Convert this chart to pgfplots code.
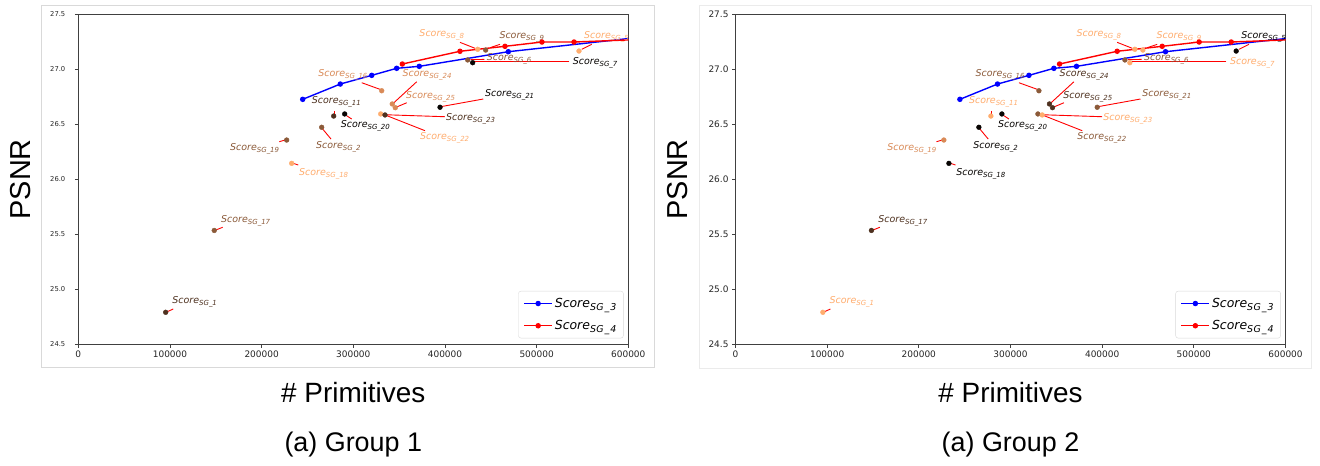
\documentclass[border=0pt]{standalone}
\usepackage{fontspec}
\setmainfont{DejaVu Sans}
\newfontfamily\capfont{Liberation Sans}
\usepackage{pgfplots}
\pgfplotsset{compat=1.18}

\definecolor{cK}{HTML}{080503}
\definecolor{cD}{HTML}{4E311F}
\definecolor{cB}{HTML}{8B5A39}
\definecolor{cT}{HTML}{D98A57}
\definecolor{cL}{HTML}{FFAD6E}

\newcommand{\sg}[1]{{\fontsize{9.5}{10}\selectfont\itshape Score\raisebox{-2bp}{\fontsize{7}{8}\selectfont #1}}}
\newcommand{\sgleg}[1]{{\itshape Score\raisebox{-2.8bp}{\fontsize{9.5}{10}\selectfont S\kern0.3bp G\kern1bp\_\kern1bp #1}}}

\newcommand{\pt}[3]{\addplot[forget plot, only marks, mark=*, mark size=2.4bp, color=#1] coordinates {(#2,#3)};}
\newcommand{\lab}[4]{\node[anchor=base west, inner sep=0pt, text=#1] at (axis cs:#2,#3) {\sg{#4}};}
\newcommand{\con}[4]{\draw[red, line width=0.9bp] (axis cs:#1,#2) -- (axis cs:#3,#4);}

\pgfplotsset{
  mylegimg/.style={legend image code/.code={\draw[mark repeat=2,mark phase=2,##1] plot coordinates {(0bp,0bp) (14bp,0bp) (28bp,0bp)};}},
  panel/.style={
    scale only axis, width=550bp, height=330bp, anchor=south west,
    xmin=0, xmax=600000, ymin=24.5, ymax=27.5,
    scaled x ticks=false, scaled y ticks=false,
    xtick={0,100000,200000,300000,400000,500000,600000},
    xticklabels={0,100000,200000,300000,400000,500000,600000},
    ytick={24.5,25,25.5,26,26.5,27,27.5},
    yticklabels={24.5,25.0,25.5,26.0,26.5,27.0,27.5},
    tick align=outside, xtick pos=bottom, ytick pos=left, major tick length=3.5bp,
    axis line style={black!75, line width=0.8bp},
    tick style={black!75, line width=0.8bp},
    ticklabel style={font=\fontsize{9}{10}\selectfont, text=black!85},
    xlabel={\# Primitives},
    xlabel style={at={(axis description cs:0.5,-0.1476)}, anchor=center, font=\capfont\fontsize{28}{30}\selectfont},
    ylabel={PSNR},
    ylabel style={at={(axis description cs:-0.105,0.5)}, anchor=center, font=\capfont\fontsize{29}{30}\selectfont},
    title style={at={(axis description cs:0.5,-0.323)}, anchor=center, yshift=0pt, font=\capfont\fontsize{27}{30}\selectfont},
    legend style={at={(1,0)}, anchor=south east, xshift=-4.7bp, yshift=6bp,
      draw=black!15, rounded corners=2.5bp, fill=white,
      font=\fontsize{12.5}{14}\selectfont, inner xsep=5bp, inner ysep=5bp,
      row sep=7.5bp},
    legend cell align=left,
  }
}

\newcommand{\groupcontent}{%
  \pt{c1}{95300}{24.791}
  \pt{c17}{148300}{25.535}
  \pt{c19}{227300}{26.357}
  \pt{c18}{232800}{26.145}
  \pt{c2}{265500}{26.473}
  \pt{c11}{278600}{26.575}
  \pt{c20}{290600}{26.594}
  \pt{c16}{331000}{26.805}
  \pt{c22}{329900}{26.594}
  \pt{c23}{334600}{26.585}
  \pt{c24}{342500}{26.685}
  \pt{c25}{345800}{26.651}
  \pt{c21}{394600}{26.655}
  \pt{c6}{424800}{27.085}
  \pt{c7}{430200}{27.060}
  \pt{c8}{435700}{27.182}
  \pt{c9}{444400}{27.175}
  \pt{c5}{546200}{27.166}
  \addplot[mylegimg, color=blue, line width=1.4bp, mark=*, mark size=2bp] coordinates {
    (244800,26.727) (285800,26.866) (320100,26.945) (347300,27.009) (372000,27.027) (469100,27.160) (640000,27.316)};
  \addlegendentry{\sgleg{3}}
  \addplot[mylegimg, color=red, line width=1.4bp, mark=*, mark size=2bp] coordinates {
    (353500,27.048) (416400,27.164) (465500,27.209) (505800,27.248) (540800,27.248) (640000,27.280)};
  \addlegendentry{\sgleg{4}}
  \con{416400}{27.245}{432800}{27.191}
  \con{460000}{27.227}{449100}{27.196}
  \con{560100}{27.227}{549200}{27.182}
  \con{535600}{27.069}{431700}{27.069}
  \con{443000}{27.090}{428000}{27.088}
  \con{309200}{26.878}{329100}{26.818}
  \con{369200}{26.887}{343600}{26.691}
  \con{358300}{26.696}{346600}{26.655}
  \con{441800}{26.730}{395300}{26.660}
  \con{279300}{26.621}{279300}{26.591}
  \con{400000}{26.569}{334600}{26.587}
  \con{298300}{26.548}{292800}{26.578}
  \con{378200}{26.442}{334600}{26.585}
  \con{275700}{26.366}{266600}{26.457}
  \con{219300}{26.342}{225500}{26.357}
  \con{240000}{26.130}{234500}{26.145}
  \con{157500}{25.564}{149100}{25.536}
  \con{103600}{24.821}{96400}{24.794}
  \lab{c8}{372000}{27.295}{SG\_8}
  \lab{c9}{459300}{27.280}{SG\_9}
  \begin{scope}
    \clip (rel axis cs:0,0) rectangle (rel axis cs:1,1);
    \lab{c5}{551700}{27.280}{SG\_5}
  \end{scope}
  \lab{c6}{445500}{27.077}{SG\_6}
  \lab{c7}{539300}{27.046}{SG\_7}
  \lab{c16}{261800}{26.937}{SG\_16}
  \lab{c24}{353500}{26.937}{SG\_24}
  \lab{c25}{357500}{26.734}{SG\_25}
  \lab{c21}{443700}{26.755}{SG\_21}
  \lab{c11}{254600}{26.689}{SG\_11}
  \lab{c23}{401100}{26.537}{SG\_23}
  \lab{c20}{286300}{26.468}{SG\_20}
  \lab{c22}{372800}{26.362}{SG\_22}
  \lab{c2}{259300}{26.280}{SG\_2}
  \lab{c19}{165500}{26.264}{SG\_19}
  \lab{c18}{240800}{26.037}{SG\_18}
  \lab{c17}{155700}{25.607}{SG\_17}
  \lab{c1}{102500}{24.871}{SG\_1}
}

\begin{document}
\begin{tikzpicture}
\useasboundingbox (0,0) rectangle (1320bp,-466bp);
\fill[white] (0,0) rectangle (1320bp,-466bp);
\draw[black!15, line width=0.8bp] (41.7bp,-5bp) rectangle (654bp,-367bp);
\draw[black!8, line width=0.8bp] (699.3bp,-5bp) rectangle (1311bp,-368bp);

% Group 1 colours
\colorlet{c1}{cD}\colorlet{c17}{cB}\colorlet{c19}{cB}\colorlet{c18}{cL}
\colorlet{c2}{cB}\colorlet{c11}{cD}\colorlet{c20}{cK}\colorlet{c16}{cT}
\colorlet{c24}{cT}\colorlet{c25}{cT}\colorlet{c21}{cK}\colorlet{c23}{cD}
\colorlet{c22}{cL}\colorlet{c6}{cB}\colorlet{c7}{cK}\colorlet{c8}{cL}
\colorlet{c9}{cB}\colorlet{c5}{cL}
\begin{axis}[panel, at={(78.3bp,-344.3bp)}, title={(a) Group 1},
  yticklabel style={font=\fontsize{6.8}{7}\selectfont, xshift=-6bp}]
\groupcontent
\end{axis}

% Group 2 colours
\colorlet{c1}{cL}\colorlet{c17}{cD}\colorlet{c19}{cT}\colorlet{c18}{cK}
\colorlet{c2}{cK}\colorlet{c11}{cL}\colorlet{c20}{cK}\colorlet{c16}{cB}
\colorlet{c24}{cD}\colorlet{c25}{cD}\colorlet{c21}{cB}\colorlet{c23}{cL}
\colorlet{c22}{cB}\colorlet{c6}{cB}\colorlet{c7}{cL}\colorlet{c8}{cL}
\colorlet{c9}{cL}\colorlet{c5}{cK}
\begin{axis}[panel, at={(735.5bp,-344.3bp)}, title={(a) Group 2}]
\groupcontent
\end{axis}
\end{tikzpicture}
\end{document}
